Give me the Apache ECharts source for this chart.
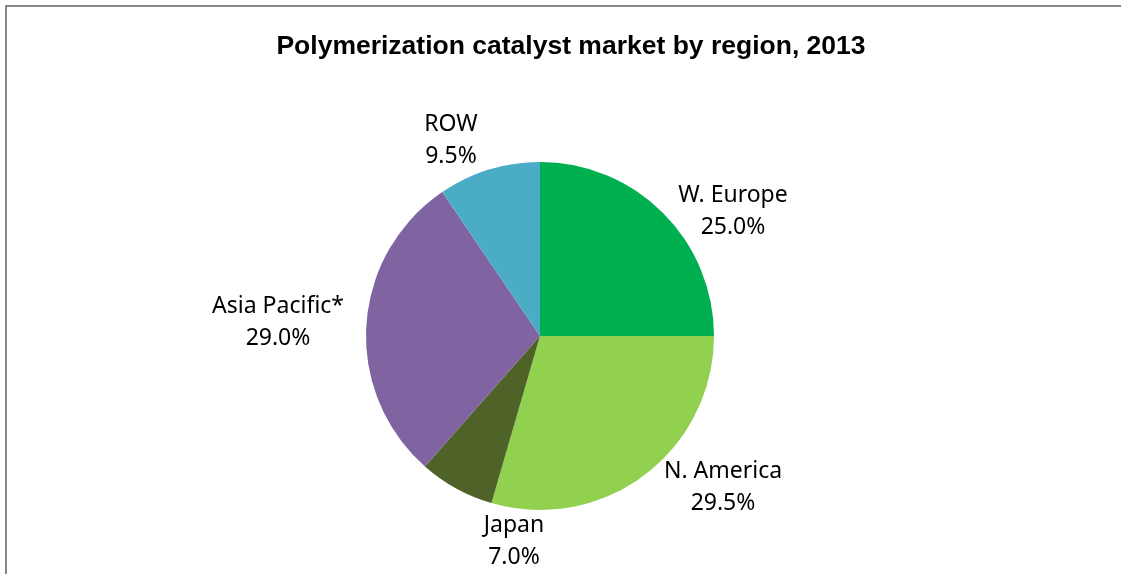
<!DOCTYPE html>
<html>
<head>
<meta charset="utf-8">
<script src="https://cdn.jsdelivr.net/npm/echarts@6/dist/echarts.min.js"></script>
<style>
  html, body { margin: 0; padding: 0; background: #fff; }
  #main { width: 1121px; height: 574px; }
</style>
</head>
<body>
<div id="main"></div>
<script>
// region shares, clockwise from 12 o'clock
var regions = ['W. Europe', 'N. America', 'Japan', 'Asia Pacific*', 'ROW'];
var shares = [25.0, 29.5, 7.0, 29.0, 9.5];
var colors = ['#00B050', '#92D050', '#4F6228', '#8064A2', '#4BACC6'];

// where Excel put the data labels (label centres)
var labelSpots = [[733, 211], [723, 487], [514, 541], [278, 322], [451, 140]];

var chart = echarts.init(document.getElementById('main'));

chart.setOption({
    animation: false,
    title: {
        text: 'Polymerization catalyst market by region, 2013',
        left: 566,
        top: 28,
        textAlign: 'center',
        textStyle: {
            fontFamily: 'Liberation Sans',
            fontSize: 26.5,
            fontWeight: 'bold',
            color: '#000'
        }
    },
    graphic: [{
        type: 'polyline',
        shape: {points: [[6, 600], [6, 6], [1125, 6]]},
        style: {stroke: '#888', lineWidth: 2, fill: null}
    }],
    series: [{
        type: 'pie',
        center: [540, 336],
        radius: 174,
        startAngle: 90,
        clockwise: true,
        data: regions.map(function (name, i) {
            return {name: name, value: shares[i], itemStyle: {color: colors[i]}};
        }),
        label: {
            show: true,
            position: 'outside',
            formatter: function (p) {
                return p.name + '\n' + p.value.toFixed(1) + '%';
            },
            fontFamily: 'Noto Sans',
            fontSize: 23,
            lineHeight: 32,
            color: '#000',
            align: 'center'
        },
        labelLine: {show: false},
        labelLayout: function (params) {
            var s = labelSpots[params.dataIndex];
            return {x: s[0], y: s[1], align: 'center', verticalAlign: 'middle'};
        },
        emphasis: {disabled: true}
    }]
});
</script>
</body>
</html>
